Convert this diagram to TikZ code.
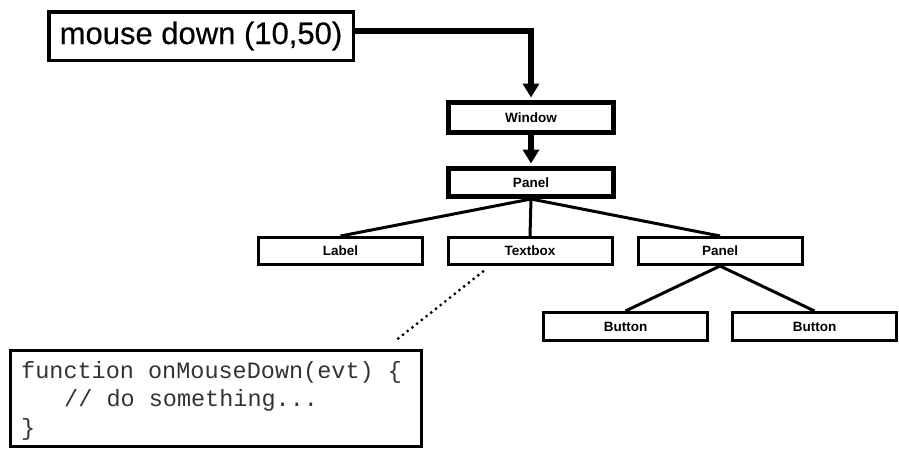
\documentclass[tikz,border=0pt]{standalone}
\usepackage{fontspec}
\setmainfont{Liberation Sans}
\setmonofont{Liberation Mono}
\newfontfamily\eventfont[FakeBold=0.4]{Liberation Sans}
\usetikzlibrary{arrows.meta,calc}

\tikzset{
  event/.style={draw, line width=3.5pt, rectangle, inner sep=0pt,
    minimum width=304.5pt, minimum height=48.5pt,
    font=\fontsize{31}{36}\eventfont\selectfont},
  heavybox/.style={draw, line width=5pt, rectangle, inner sep=0pt,
    minimum width=165pt, minimum height=30pt,
    font=\fontsize{13.5}{16}\bfseries\selectfont},
  widget/.style={draw, line width=3pt, rectangle, inner sep=0pt,
    minimum width=164pt, minimum height=27pt,
    font=\fontsize{13.5}{16}\bfseries\selectfont},
  codebox/.style={draw, line width=3pt, rectangle, inner sep=0pt,
    minimum width=411pt, minimum height=96pt},
  codeline/.style={anchor=base west, inner sep=0pt, text=black!80,
    font=\fontsize{23.5}{28}\ttfamily\selectfont},
  flow/.style={line width=5.5pt, -{Triangle[length=14pt,width=16pt]},
    shorten >=2.5pt},
  branch/.style={line width=3pt},
  handler/.style={line width=3.2pt, line cap=round,
    dash pattern=on 0pt off 6pt}
}

\begin{document}
\begin{tikzpicture}[x=1pt, y=-1pt]
  \useasboundingbox (0,0) rectangle (899,456);

  % incoming event
  \node[event] (mouse) at (201,36) {\raisebox{-1.5pt}{mouse down (10,50)}};

  % component hierarchy
  \node[heavybox] (win) at (531,117.5) {Window};
  \node[heavybox, minimum height=28pt] (panel) at (531,182.5) {Panel};

  \node[widget] (label)   at (340.5,251) {Label};
  \node[widget] (textbox) at (530,251)   {Textbox};
  \node[widget] (subpanel) at (720,251)  {Panel};

  \node[widget, minimum height=28pt] (btnA) at (625.5,326.5) {Button};
  \node[widget, minimum height=28pt] (btnB) at (814.5,326.5) {Button};

  % event handler source
  \node[codebox] (code) at (216,398.5) {};
  \node[codeline] (codeA) at (21,378)   {function onMouseDown(evt) \{};
  \node[codeline] (codeB) at (64,406.5) {// do something...};
  \node[codeline] (codeC) at (21,435)   {\}};

  % event routing
  \coordinate (turn) at (531,31);
  \draw[flow] (mouse.east |- turn) -| (win.north);
  \draw[flow] (win.south) -- (panel.north);

  % tree edges
  \draw[branch] (panel.south) -- (label.north);
  \draw[branch] (panel.south) -- (textbox.north);
  \draw[branch] (panel.south) -- (subpanel.north);
  \draw[branch] (subpanel.south) -- (btnA.north);
  \draw[branch] (subpanel.south) -- (btnB.north);

  % handler attached to the textbox
  \draw[handler] ($(textbox.south)+(-47,5.5)$) -- ($(code.north east)+(-28.5,-7.5)$);
\end{tikzpicture}
\end{document}
